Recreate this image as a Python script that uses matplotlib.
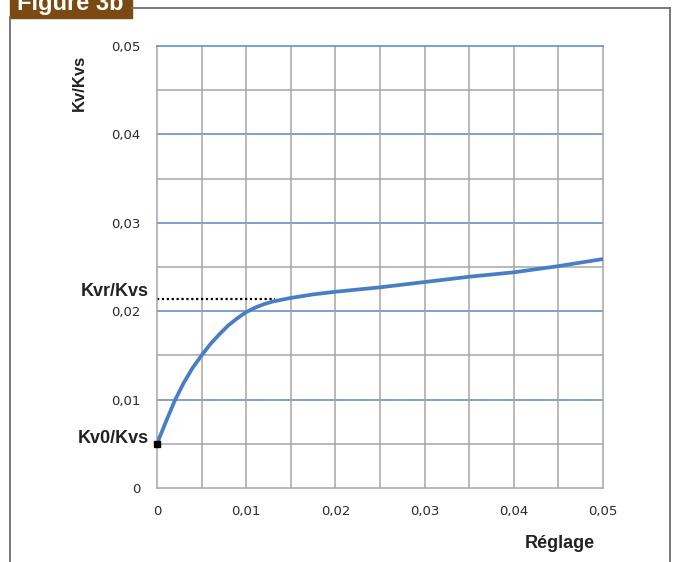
import matplotlib
matplotlib.use("Agg")
import matplotlib.pyplot as plt
from matplotlib.patches import Rectangle
from matplotlib.lines import Line2D

# courbe
reglage = [0, 0.001, 0.002, 0.003, 0.004, 0.005, 0.006, 0.007, 0.008, 0.009, 0.01,
           0.011, 0.012, 0.013, 0.014, 0.015, 0.0175, 0.02, 0.025, 0.03, 0.035,
           0.04, 0.045, 0.05]
kv_kvs = [0.0050, 0.0075, 0.0099, 0.0119, 0.0136, 0.0150, 0.0163, 0.0174, 0.0184, 0.0192,
          0.0199, 0.0204, 0.0208, 0.0211, 0.0213, 0.0215, 0.0219, 0.0222, 0.0227, 0.0233,
          0.0239, 0.0244, 0.0251, 0.0259]

kv0 = 0.005
kvr = 0.0214
kvr_x = 0.0132

ticks = [0, 0.01, 0.02, 0.03, 0.04, 0.05]
tick_labels = ["0", "0,01", "0,02", "0,03", "0,04", "0,05"]

plt.rcParams['font.family'] = ['Liberation Sans', 'DejaVu Sans']

fig = plt.figure(figsize=(6.73, 5.62), dpi=100)
ax = fig.add_axes([157/673, 1-488/562, 446/673, 442/562])

# grille
for v in [0.005, 0.015, 0.025, 0.035, 0.045]:
    ax.axhline(v, color='#a6a6a6', lw=1.1, zorder=1)
for v in [0.01, 0.02, 0.03, 0.04]:
    ax.axhline(v, color='#5b85c0', lw=1.1, zorder=1)
for v in [0.005, 0.01, 0.015, 0.02, 0.025, 0.03, 0.035, 0.04, 0.045]:
    ax.axvline(v, color='#a6a6a6', lw=1.1, zorder=1)

ax.plot(reglage, kv_kvs, color='#4a7ec4', lw=2.7, solid_capstyle='butt',
        solid_joinstyle='round', zorder=3)
ax.plot([0, kvr_x], [kvr, kvr], color='black', lw=1.6, ls=(0, (1, 1.2)), zorder=2)
ax.plot([0], [kv0], marker='s', color='black', ms=4, zorder=4, clip_on=False)

ax.set_xlim(0, 0.05)
ax.set_ylim(0, 0.05)
ax.set_xticks(ticks)
ax.set_xticklabels(tick_labels)
ax.set_yticks(ticks)
ax.set_yticklabels(tick_labels)
ax.tick_params(length=0, labelsize=9.5, labelcolor='#2a2a2a', pad=12)
for lab in ax.get_xticklabels() + ax.get_yticklabels():
    lab.set_family('DejaVu Sans')
for s in ['left', 'right', 'bottom']:
    ax.spines[s].set_color('#a6a6a6')
    ax.spines[s].set_linewidth(1.1)
ax.spines['top'].set_color('#5b85c0')
ax.spines['top'].set_linewidth(1.1)

ax.text(-0.0009, 0.0222, "Kvr/Kvs", ha='right', va='center', fontsize=13,
        fontweight='bold', color='#222222')
ax.text(-0.0009, 0.0056, "Kv0/Kvs", ha='right', va='center', fontsize=13,
        fontweight='bold', color='#222222')

fig.text(79/673, 1-83/562, "Kv/Kvs", rotation=90, ha='center', va='center',
         fontsize=12, fontweight='bold', color='#222222')
fig.text(560/673, 1-543/562, "Réglage", ha='center', va='center',
         fontsize=13, fontweight='bold', color='#222222')

# cadre et étiquette
fig.add_artist(Line2D([10/673, 10/673], [0, 1-17/562], color='#6e6e6e', lw=1.3))
fig.add_artist(Line2D([132/673, 670/673], [1-8/562, 1-8/562], color='#6e6e6e', lw=1.3))
fig.add_artist(Line2D([670/673, 670/673], [0, 1-8/562], color='#6e6e6e', lw=1.3))
fig.add_artist(Rectangle((10/673, 1-18/562), 122/673, 18/562, color='#7a4a12',
                         transform=fig.transFigure))
fig.text(17/673, 1-10/562, "Figure 3b", ha='left', va='baseline', fontsize=17,
         fontweight='bold', color='white')

fig.savefig("out.png", dpi=100)
